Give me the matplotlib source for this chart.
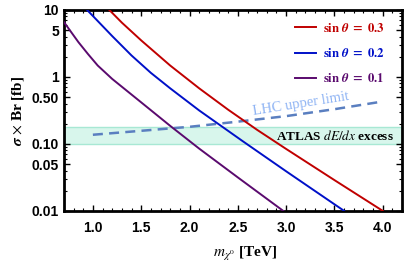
import numpy as np
import matplotlib
matplotlib.use("Agg")
import matplotlib.pyplot as plt
from matplotlib.ticker import FixedLocator, MultipleLocator, LogLocator, NullFormatter

plt.rcParams['mathtext.fontset'] = 'stix'

# curves (mass in TeV, sigma x Br in fb)
m_03 = [1.17, 1.3, 1.5, 1.8, 2.1, 2.4, 2.7, 3.0, 3.5, 4.0]
s_03 = [10, 6.46, 3.51, 1.48, 0.676, 0.324, 0.162, 0.0841, 0.0288, 0.010]

m_02 = [0.94, 1.0, 1.2, 1.4, 1.6, 1.8, 2.1, 2.55, 3.0, 3.6]
s_02 = [10, 8.13, 4.07, 2.09, 1.15, 0.676, 0.316, 0.110, 0.039, 0.010]

m_01 = [0.7, 0.85, 0.95, 1.05, 1.2, 1.5, 1.8, 2.1, 2.5, 2.97]
s_01 = [6.61, 3.31, 2.19, 1.48, 0.933, 0.417, 0.186, 0.0851, 0.0316, 0.010]

m_lhc = [1.0, 1.5, 2.0, 2.5, 3.0, 3.5, 4.0]
s_lhc = [0.137, 0.157, 0.180, 0.215, 0.26, 0.33, 0.43]

band_lo, band_hi = 0.10, 0.18

yticks = [0.01, 0.05, 0.10, 0.50, 1, 5, 10]
ytick_labels = ["0.01", "0.05", "0.10", "0.50", "1", "5", "10"]
xticks = [1.0, 1.5, 2.0, 2.5, 3.0, 3.5, 4.0]

red = '#c00000'
blue = '#0010c8'
purple = '#5a0a6e'

fig = plt.figure(figsize=(4.07, 2.69), dpi=100)
ax = fig.add_axes([0.157, 0.216, 0.831, 0.747])

ax.axhspan(band_lo, band_hi, facecolor='#d8f6ec', edgecolor='#a8e8d4', lw=1.0, zorder=1)
ax.plot(m_lhc, s_lhc, color='#5a7fc0', lw=1.8, ls=(0, (4, 2.5)), zorder=2)

ax.plot(m_03, s_03, color=red, lw=1.4, label=r'$\mathbf{sin}\ \boldsymbol{\theta}\ \mathbf{=\ 0.3}$', zorder=3)
ax.plot(m_02, s_02, color=blue, lw=1.4, label=r'$\mathbf{sin}\ \boldsymbol{\theta}\ \mathbf{=\ 0.2}$', zorder=3)
ax.plot(m_01, s_01, color=purple, lw=1.4, label=r'$\mathbf{sin}\ \boldsymbol{\theta}\ \mathbf{=\ 0.1}$', zorder=3)

ax.set_yscale('log')
ax.set_xlim(0.7, 4.2)
ax.set_ylim(0.01, 10)

ax.yaxis.set_major_locator(FixedLocator(yticks))
ax.set_yticklabels(ytick_labels)
ax.yaxis.set_minor_locator(LogLocator(base=10, subs=np.arange(2, 10)))
ax.yaxis.set_minor_formatter(NullFormatter())
ax.xaxis.set_major_locator(FixedLocator(xticks))
ax.set_xticklabels([f"{v:.1f}" for v in xticks])
ax.xaxis.set_minor_locator(MultipleLocator(0.1))

ax.tick_params(which='both', direction='in', top=True, right=True, labelsize=10)
ax.tick_params(axis='x', pad=7)
ax.tick_params(which='major', length=4, width=1)
ax.tick_params(which='minor', length=2, width=0.8)
for lab in ax.get_xticklabels() + ax.get_yticklabels():
    lab.set_fontweight('bold')
    lab.set_family('Liberation Sans')
for sp in ax.spines.values():
    sp.set_linewidth(2)

ax.set_xlabel(r'$\boldsymbol{m_{\chi^0}}$ [TeV]', family='Liberation Serif', fontweight='bold', fontsize=11)
ax.xaxis.set_label_coords(0.535, -0.17)
ax.set_ylabel(r'$\boldsymbol{\sigma}$ $\times$ Br [fb]', family='Liberation Serif', fontweight='bold', fontsize=11)

leg = ax.legend(loc='upper right', bbox_to_anchor=(0.975, 0.985), frameon=False,
                handlelength=1.6, handletextpad=0.55, labelspacing=0.95,
                labelcolor='linecolor', fontsize=9.2, borderaxespad=0.3)

ax.text(3.15, 0.39, 'LHC upper limit', color='#8fb4f4', fontsize=10.5, family='Liberation Serif',
        rotation=9, ha='center', va='center', zorder=4)
ax.text(4.12, 0.133, r'ATLAS $\mathbf{\it{dE/dx}}$ excess', color='black', fontsize=9.5,
        family='Liberation Serif', fontweight='bold', ha='right', va='center', zorder=4)

fig.savefig('out.png', dpi=100)
